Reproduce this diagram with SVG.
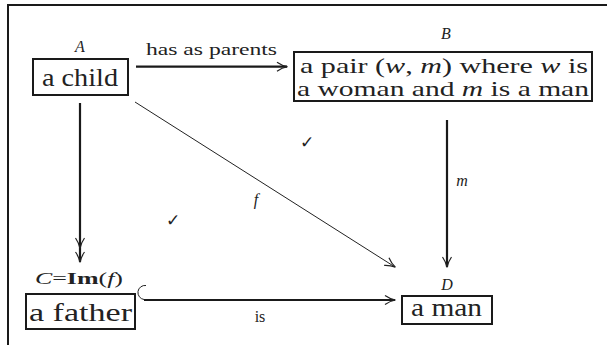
<svg xmlns="http://www.w3.org/2000/svg" width="607" height="345" viewBox="0 0 607 345">
<style>
.box{fill:#fff;stroke:#1a1a1a;stroke-width:2}
.t{font-family:"Liberation Serif","Times New Roman",serif;fill:#222}
.big{font-size:25px}
.mid{font-size:21.5px}
.lab{font-size:16px;font-style:italic}
.sm{font-size:16px}
.i{font-style:italic}
.thick{stroke:#1a1a1a;stroke-width:2.2;fill:none}
.thin{stroke:#222;stroke-width:1;fill:none}
.head{stroke:#222;stroke-width:1.2;fill:none}
.chk{font-family:"DejaVu Sans",sans-serif;font-size:17px;fill:#222}
</style>
<defs>
<marker id="ah" markerUnits="userSpaceOnUse" markerWidth="14" markerHeight="12" refX="12" refY="6" orient="auto" viewBox="0 0 14 12">
<path d="M2,1.5 Q7,5 12.5,6 Q7,7 2,10.5" class="head"/>
</marker>
<marker id="ah2" markerUnits="userSpaceOnUse" markerWidth="28" markerHeight="12" refX="26" refY="6" orient="auto" viewBox="0 0 28 12">
<path d="M2,1.5 Q7,5 12.5,6 Q7,7 2,10.5" class="head"/>
<path d="M16,1.5 Q21,5 26.5,6 Q21,7 16,10.5" class="head"/>
</marker>
</defs>
<g id="frame">
<path d="M8,345 V5 H607" stroke="#1a1a1a" stroke-width="2" fill="none"/>
</g>
<g id="connectors">
<path d="M136,66.7 H287" class="thick" marker-end="url(#ah)"/>
<text class="t sm" x="146" y="55" textLength="131" lengthAdjust="spacingAndGlyphs">has as parents</text>
<path d="M80,103 V262" class="thick" marker-end="url(#ah2)"/>
<path d="M135,102 L395,267" class="thin" marker-end="url(#ah)"/>
<text class="t lab" x="256" y="205" text-anchor="middle">f</text>
<path d="M447,120 V267" class="thick" marker-end="url(#ah)"/>
<text class="t lab" x="462" y="186" text-anchor="middle">m</text>
<path d="M144,300 H395" class="thick" marker-end="url(#ah)"/>
<path d="M146,285.5 A7,7 0 0 0 144,299.5" class="thin" stroke-width="1.2"/>
<text class="t sm" x="260" y="322" text-anchor="middle">is</text>
<text class="chk" x="173" y="226" text-anchor="middle">✓</text>
<text class="chk" x="307" y="148" text-anchor="middle">✓</text>
</g>
<g id="nodeA">
<text class="t lab" x="80" y="52" text-anchor="middle">A</text>
<rect class="box" x="33" y="59" width="95" height="36"/>
<text class="t big" x="42" y="86" textLength="76" lengthAdjust="spacingAndGlyphs">a child</text>
</g>
<g id="nodeB">
<text class="t lab" x="446" y="39" text-anchor="middle">B</text>
<rect class="box" x="294" y="52" width="298" height="49"/>
<text class="t mid" x="300" y="73" textLength="288" lengthAdjust="spacingAndGlyphs">a pair (<tspan class="i">w</tspan>, <tspan class="i">m</tspan>) where <tspan class="i">w</tspan> is</text>
<text class="t mid" x="297" y="96" textLength="292" lengthAdjust="spacingAndGlyphs">a woman and <tspan class="i">m</tspan> is a man</text>
</g>
<g id="nodeC">
<text class="t lab" x="35" y="284" font-size="15" textLength="88" lengthAdjust="spacingAndGlyphs">C<tspan font-style="normal">=</tspan><tspan font-style="normal" font-weight="bold">Im</tspan><tspan font-style="normal">(</tspan>f<tspan font-style="normal">)</tspan></text>
<rect class="box" x="26" y="294" width="109" height="35"/>
<text class="t big" x="29" y="321" textLength="103" lengthAdjust="spacingAndGlyphs">a father</text>
</g>
<g id="nodeD">
<text class="t lab" x="447" y="290" text-anchor="middle">D</text>
<rect class="box" x="402" y="296" width="90" height="28"/>
<text class="t big" x="411" y="316" textLength="71" lengthAdjust="spacingAndGlyphs">a man</text>
</g>
</svg>
